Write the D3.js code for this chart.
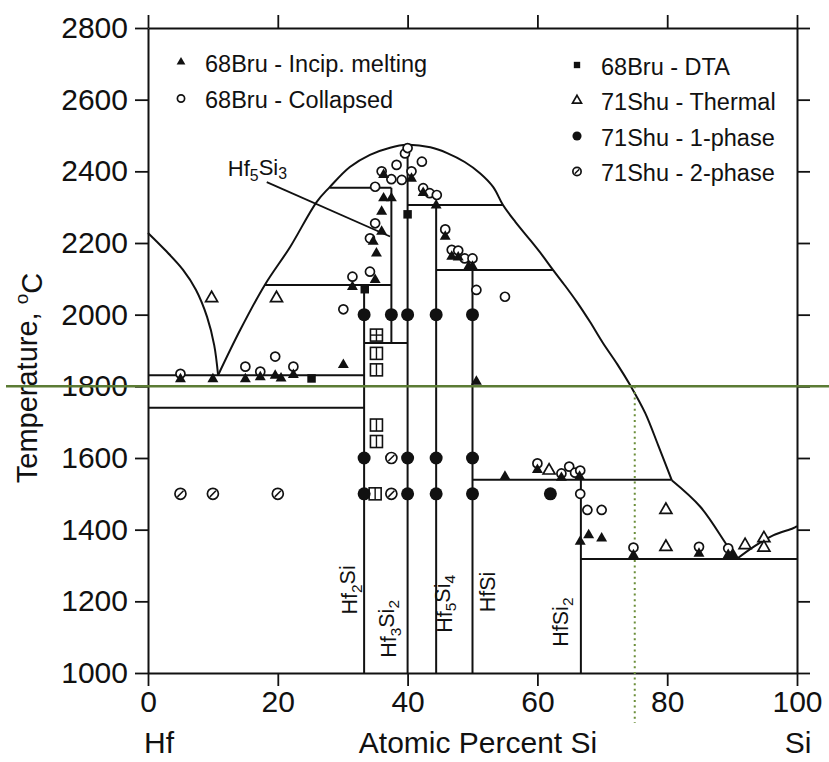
<!DOCTYPE html>
<html><head><meta charset="utf-8">
<script src="https://cdn.jsdelivr.net/npm/d3@7"></script>
<style>
body{margin:0;background:#fff}
text{font-family:"Liberation Sans",Arial,Helvetica,sans-serif;fill:#111}
</style>
</head><body>
<svg id="c" width="829" height="762"></svg>
<script>
// ---------- data ----------
const xTicks = [0, 20, 40, 60, 80, 100];
const yTicks = [1000, 1200, 1400, 1600, 1800, 2000, 2200, 2400, 2600, 2800];

// liquidus curves [at.% Si, T °C]
const hfLiquidus = [[0,2228],[2.6,2181],[5.4,2125],[7.4,2069],[9.1,1994],[10.2,1915],[10.8,1831]];
const domeLiquidus = [[10.8,1831],[14.2,1957],[18.0,2083],[21.9,2189],[26.0,2315],[28.0,2356],[31.1,2412],[34.2,2446],[37.3,2466],[39.9,2474],[43.5,2467],[46.1,2451],[48.8,2426],[51.2,2394],[53.2,2356],[54.7,2306],[56.6,2259],[58.9,2208],[60.7,2167],[62.4,2125],[64.3,2080],[66.1,2035],[68.1,1980],[70.1,1921],[72.3,1862],[74.4,1800],[76.6,1726],[78.6,1636],[80.7,1538]];
const siLiquidusA = [[80.7,1538],[85.1,1464],[89.2,1357],[90.7,1318]];
const siLiquidusB = [[90.7,1318],[93.3,1352],[96.4,1385],[99.4,1404],[100,1410]];

// invariant horizontals [x1, x2, T]
const horizontals = [[0,33.3,1831],[0,33.3,1740],[18.0,37.5,2083],[28.0,37.5,2354],[33.3,40,1921],[40,54.7,2306],[44.4,62.4,2125],[50,80.7,1539],[66.7,100,1318]];
// compound verticals [x, Tlow, Thigh]
const verticals = [[33.3,1000,2083],[37.5,1921,2354],[40,1000,2474],[44.4,1000,2306],[50,1000,2125],[66.7,1000,1539]];

// compound labels
const compounds = ["Hf2Si","Hf3Si2","Hf5Si4","HfSi","HfSi2"];

// experimental points
const incipMelting = [[5,1820],[10,1820],[15,1820],[17.3,1826],[19.6,1830],[20.5,1822],[22.4,1832],
  [30.1,1860],[31.5,2078],[35,2097],[35.2,2171],[34.7,2204],[36,2232],[36,2288],[36.3,2325],[37.5,2325],
  [36.3,2390],[40.6,2380],[42.4,2340],[44.4,2305],[45.8,2218],[46.8,2162],[47.8,2160],[49.4,2134],[50,2134],
  [50.6,1813],[55,1548],[60,1567],[63.7,1545],[66.5,1548],[66.6,1367],[67.9,1385],[69.9,1376],[74.8,1329],
  [84.9,1333],[89.4,1330],[90.2,1330]];
const collapsed = [[5,1835],[15,1855],[17.3,1841],[19.6,1883],[22.4,1855],[30.1,2015],[31.5,2106],[34.2,2120],
  [34.2,2213],[35,2255],[35,2357],[36,2400],[37.5,2378],[39.1,2376],[38.3,2418],[39.6,2450],[40,2465],[40.6,2400],
  [42.2,2427],[42.4,2353],[43.4,2339],[44.5,2334],[45.8,2238],[46.8,2181],[47.8,2179],[48.8,2157],[50,2157],
  [50.6,2069],[55,2050],[60,1585],[63.7,1557],[64.9,1576],[65.8,1559],[66.6,1565],[66.6,1500],[67.7,1455],
  [69.9,1455],[74.8,1350],[84.9,1352],[89.4,1348]];
const dta = [[25.2,1822],[33.4,2071],[40,2280]];
const thermal = [[9.8,2046],[19.8,2046],[61.8,1565],[79.8,1455],[79.8,1352],[92,1357],[94.9,1376],[94.9,1350]];
const onePhase = [[33.3,2000],[37.5,2000],[40,2000],[44.4,2000],[50,2000],[33.3,1600],[40,1600],[44.4,1600],[50,1600],
  [33.3,1500],[40,1500],[44.4,1500],[50,1500],[62,1500]];
const twoPhase = [[5,1500],[10,1500],[20,1500],[37.5,1600],[37.5,1500]];
const boxedCross = [[35.2,1943]];
const boxedSplit = [[35.2,1892],[35.2,1846],[35.2,1692],[35.2,1646],[35,1500]];

const legendLeft = ["68Bru - Incip. melting","68Bru - Collapsed"];
const legendRight = ["68Bru - DTA","71Shu - Thermal","71Shu - 1-phase","71Shu - 2-phase"];

// ---------- drawing ----------
const svg = d3.select("#c");
const x = d3.scaleLinear().domain([0,100]).range([148,797]);
const y = d3.scaleLinear().domain([1000,2800]).range([673,28]);
const INK = "#111";
const FONT = '"Liberation Sans",Arial,Helvetica,sans-serif';

function styleAxis(g){
  g.attr("font-family", FONT).attr("font-size", 30);
  g.select(".domain").attr("stroke", INK).attr("stroke-width", 2);
  g.selectAll(".tick line").attr("stroke", INK).attr("stroke-width", 1.8);
  g.selectAll(".tick text").attr("fill", INK);
}
const fmt = d3.format("d");
svg.append("g").attr("transform","translate(0,673)")
  .call(d3.axisBottom(x).tickValues(xTicks).tickFormat(fmt).tickSize(13).tickSizeOuter(0).tickPadding(5)).call(styleAxis);
svg.append("g").attr("transform","translate(0,28)")
  .call(d3.axisTop(x).tickValues(xTicks).tickSize(13).tickSizeOuter(0).tickFormat("")).call(styleAxis);
svg.append("g").attr("transform","translate(148,0)")
  .call(d3.axisLeft(y).tickValues(yTicks).tickFormat(fmt).tickSize(13).tickSizeOuter(0).tickPadding(7)).call(styleAxis);
svg.append("g").attr("transform","translate(797,0)")
  .call(d3.axisRight(y).tickValues(yTicks).tickSize(13).tickSizeOuter(0).tickFormat("")).call(styleAxis);

// axis titles
svg.append("text").attr("x",144).attr("y",753).attr("font-size",30).text("Hf");
svg.append("text").attr("x",798).attr("y",753).attr("font-size",30).attr("text-anchor","middle").text("Si");
svg.append("text").attr("x",478).attr("y",753).attr("font-size",30).attr("text-anchor","middle").text("Atomic Percent Si");
const yt = svg.append("text").attr("transform","translate(37,378) rotate(-90)").attr("font-size",29).attr("text-anchor","middle");
yt.append("tspan").text("Temperature, ");
yt.append("tspan").attr("dy","-0.45em").attr("font-size",19).text("o");
yt.append("tspan").attr("dy","0.45em").text("C");

// phase lines
const lines = svg.append("g").attr("fill","none").attr("stroke",INK).attr("stroke-width",2);
const curve = d3.line().x(d=>x(d[0])).y(d=>y(d[1])).curve(d3.curveCatmullRom.alpha(0.5));
[hfLiquidus, domeLiquidus, siLiquidusA, siLiquidusB].forEach(c=>lines.append("path").attr("d",curve(c)));
lines.selectAll("line.h").data(horizontals).join("line").attr("class","h")
  .attr("x1",d=>x(d[0])).attr("x2",d=>x(d[1])).attr("y1",d=>y(d[2])).attr("y2",d=>y(d[2]));
lines.selectAll("line.v").data(verticals).join("line").attr("class","v")
  .attr("x1",d=>x(d[0])).attr("x2",d=>x(d[0])).attr("y1",d=>y(d[1])).attr("y2",d=>y(d[2]));

// Hf5Si3 label with leader
lines.append("line").attr("x1",x(18.3)).attr("y1",y(2370)).attr("x2",x(37.3)).attr("y2",y(2218)).attr("stroke-width",1.8);
function chem(sel, parts){
  let sub = false;
  parts.forEach(p=>{
    const isNum = /\d/.test(p);
    const t = sel.append("tspan").text(p);
    if(isNum){ t.attr("dy","0.3em").attr("font-size","0.72em"); sub = true; }
    else if(sub){ t.attr("dy","-0.3em"); sub = false; }
  });
}
function splitChem(s){ return s.match(/[A-Za-z]+|\d+/g); }
const hl = svg.append("text").attr("x",x(12.3)).attr("y",y(2386)).attr("font-size",22);
chem(hl, splitChem("Hf5Si3"));

// vertical compound labels: [xData, Tcenter]
const compPos = [[32.2,1232],[38.2,1123],[46.8,1193],[53.4,1226],[64.7,1142]];
compounds.forEach((c,i)=>{
  const t = svg.append("text").attr("font-size",21.5).attr("text-anchor","middle")
    .attr("transform",`translate(${x(compPos[i][0])},${y(compPos[i][1])}) rotate(-90)`);
  chem(t, splitChem(c));
});

// reference lines (green)
svg.append("line").attr("x1",6).attr("x2",829).attr("y1",y(1800)).attr("y2",y(1800))
  .attr("stroke","#5b7b34").attr("stroke-width",2.5);
svg.append("line").attr("x1",x(75)).attr("x2",x(75)).attr("y1",y(1800)).attr("y2",y(1000)+50)
  .attr("stroke","#6b8e3a").attr("stroke-width",2).attr("stroke-dasharray","2,3.6");

// markers
const tri = d3.symbol().type(d3.symbolTriangle);
const sq = d3.symbol().type(d3.symbolSquare);
const pts = svg.append("g");
function drawMarker(g, kind, scale){
  const k = scale || 1;
  if(kind==="incip") g.append("path").attr("d",tri.size(52*k*k)()).attr("fill",INK);
  else if(kind==="collapsed") g.append("circle").attr("r",4.5*k).attr("fill","#fff").attr("stroke",INK).attr("stroke-width",1.7);
  else if(kind==="dta") g.append("path").attr("d",sq.size(72*k*k)()).attr("fill",INK);
  else if(kind==="thermal") g.append("path").attr("d",tri.size(62*k*k)()).attr("fill","#fff").attr("stroke",INK).attr("stroke-width",1.7);
  else if(kind==="one") g.append("circle").attr("r",6.5*k).attr("fill",INK);
  else if(kind==="two"){
    const r=5.5*k;
    g.append("circle").attr("r",r).attr("fill","#fff").attr("stroke",INK).attr("stroke-width",1.7);
    g.append("line").attr("x1",-r*0.55).attr("y1",r*0.55).attr("x2",r*0.55).attr("y2",-r*0.55).attr("stroke",INK).attr("stroke-width",1.5);
  }
  else if(kind==="boxSplit"||kind==="boxCross"){
    g.append("rect").attr("x",-6).attr("y",-6).attr("width",12).attr("height",12).attr("fill","#fff").attr("stroke",INK).attr("stroke-width",1.6);
    g.append("line").attr("x1",0).attr("x2",0).attr("y1",-6).attr("y2",6).attr("stroke",INK).attr("stroke-width",1.4);
    if(kind==="boxCross") g.append("line").attr("x1",-6).attr("x2",6).attr("y1",0).attr("y2",0).attr("stroke",INK).attr("stroke-width",1.4);
  }
}
function series(data, kind){
  pts.selectAll(null).data(data).join("g")
    .attr("transform",d=>`translate(${x(d[0])},${y(d[1])})`)
    .each(function(){ drawMarker(d3.select(this), kind); });
}
series(boxedCross,"boxCross");
series(boxedSplit,"boxSplit");
series(twoPhase,"two");
series(onePhase,"one");
series(collapsed,"collapsed");
series(thermal,"thermal");
series(dta,"dta");
series(incipMelting,"incip");

// legend
const lg = svg.append("g").attr("font-size",23.5);
const leftKinds = ["incip","collapsed"], rightKinds=["dta","thermal","one","two"];
legendLeft.forEach((t,i)=>{
  const cy = 62 + i*36.5;
  drawMarker(lg.append("g").attr("transform",`translate(181,${cy})`), leftKinds[i], 0.8);
  lg.append("text").attr("x",205).attr("y",cy+9.5).text(t);
});
legendRight.forEach((t,i)=>{
  const cy = 65 + i*35.5;
  drawMarker(lg.append("g").attr("transform",`translate(577,${cy})`), rightKinds[i], i===2?0.7:0.75);
  lg.append("text").attr("x",601).attr("y",cy+9.5).text(t);
});
</script>
</body></html>
